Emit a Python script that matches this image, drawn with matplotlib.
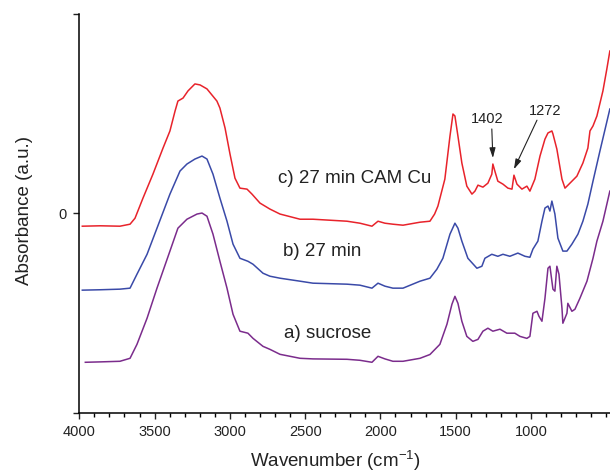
"""FTIR spectra of sucrose and treated samples, stacked with offsets"""
import matplotlib
matplotlib.use('Agg')
import matplotlib.pyplot as plt
from matplotlib.ticker import FixedLocator, MultipleLocator

plt.rcParams['font.family'] = ['Liberation Sans', 'DejaVu Sans']
plt.rcParams['mathtext.fontset'] = 'custom'
plt.rcParams['mathtext.rm'] = 'Liberation Sans'

# c) 27 min CAM Cu
wn_c = [3980, 3860, 3730, 3663, 3630, 3577, 3511, 3444, 3398, 3364, 3345, 3311, 3278,
        3232, 3198, 3152, 3086, 3066, 3032, 2999, 2966, 2933, 2886, 2853, 2800, 2734,
        2667, 2534, 2448, 2335, 2222, 2136, 2056, 2016, 1970, 1917, 1850, 1737, 1671,
        1640, 1618, 1572, 1538, 1518, 1505, 1485, 1459, 1426, 1392, 1372, 1352, 1319,
        1286, 1260, 1253, 1240, 1220, 1186, 1153, 1126, 1113, 1093, 1060, 1027, 1007,
        974, 940, 907, 887, 861, 854, 828, 794, 774, 741, 695, 655, 622, 608, 588, 562,
        522, 496, 476]
abs_c = [-0.064, -0.062, -0.064, -0.054, -0.024, 0.077, 0.197, 0.328, 0.414, 0.514,
         0.564, 0.579, 0.615, 0.650, 0.645, 0.625, 0.564, 0.529, 0.429, 0.298, 0.177,
         0.127, 0.122, 0.097, 0.052, 0.022, -0.003, -0.029, -0.029, -0.034, -0.039,
         -0.049, -0.064, -0.039, -0.049, -0.054, -0.059, -0.044, -0.039, -0.003, 0.037,
         0.172, 0.388, 0.499, 0.489, 0.388, 0.253, 0.137, 0.097, 0.112, 0.142, 0.132,
         0.152, 0.197, 0.248, 0.213, 0.162, 0.147, 0.127, 0.122, 0.192, 0.147, 0.122,
         0.137, 0.112, 0.172, 0.288, 0.373, 0.404, 0.414, 0.399, 0.323, 0.172, 0.127,
         0.152, 0.187, 0.253, 0.328, 0.414, 0.439, 0.489, 0.615, 0.725, 0.815]

# b) 27 min
wn_b = [3980, 3860, 3730, 3663, 3617, 3550, 3484, 3398, 3331, 3285, 3232, 3185, 3152,
        3112, 3066, 3019, 2979, 2933, 2880, 2846, 2780, 2734, 2667, 2534, 2448, 2222,
        2136, 2056, 2016, 1970, 1917, 1850, 1737, 1671, 1625, 1585, 1538, 1505, 1485,
        1459, 1419, 1359, 1326, 1306, 1260, 1220, 1186, 1140, 1087, 1040, 1007, 987,
        954, 927, 907, 887, 874, 861, 841, 821, 788, 761, 728, 688, 655, 622, 588, 542,
        476]
abs_b = [-0.385, -0.383, -0.380, -0.375, -0.305, -0.205, -0.074, 0.097, 0.213, 0.248,
         0.273, 0.288, 0.273, 0.197, 0.077, -0.039, -0.154, -0.225, -0.240, -0.255,
         -0.300, -0.315, -0.325, -0.340, -0.350, -0.355, -0.360, -0.375, -0.350, -0.365,
         -0.375, -0.375, -0.340, -0.325, -0.280, -0.225, -0.104, -0.049, -0.074, -0.139,
         -0.225, -0.275, -0.265, -0.225, -0.205, -0.215, -0.205, -0.215, -0.199, -0.215,
         -0.220, -0.179, -0.139, -0.039, 0.027, 0.037, 0.012, 0.062, -0.003, -0.124,
         -0.189, -0.189, -0.154, -0.104, -0.039, 0.047, 0.162, 0.313, 0.524]

# a) sucrose
wn_a = [3960, 3860, 3730, 3663, 3617, 3550, 3484, 3398, 3345, 3285, 3218, 3185, 3152,
        3112, 3066, 3019, 2979, 2933, 2880, 2846, 2780, 2734, 2667, 2534, 2448, 2222,
        2136, 2056, 2016, 1970, 1917, 1850, 1737, 1671, 1605, 1558, 1525, 1505, 1485,
        1459, 1426, 1386, 1352, 1319, 1286, 1253, 1206, 1160, 1107, 1073, 1027, 1007,
        987, 960, 947, 927, 907, 887, 874, 854, 841, 828, 814, 794, 788, 761, 755, 728,
        708, 675, 628, 588, 562, 522, 476]
abs_a = [-0.747, -0.745, -0.742, -0.727, -0.657, -0.526, -0.375, -0.189, -0.074, -0.029,
         -0.003, 0.002, -0.014, -0.104, -0.240, -0.375, -0.506, -0.591, -0.601, -0.627,
         -0.667, -0.682, -0.707, -0.727, -0.730, -0.732, -0.737, -0.747, -0.717, -0.730,
         -0.742, -0.742, -0.727, -0.708, -0.657, -0.556, -0.456, -0.416, -0.451, -0.541,
         -0.617, -0.642, -0.632, -0.591, -0.576, -0.591, -0.581, -0.601, -0.601, -0.617,
         -0.627, -0.617, -0.501, -0.491, -0.516, -0.541, -0.426, -0.275, -0.265, -0.380,
         -0.390, -0.265, -0.305, -0.476, -0.551, -0.501, -0.451, -0.491, -0.481, -0.426,
         -0.340, -0.225, -0.139, -0.039, 0.112]

series = [
    (wn_c, abs_c, '#e8232b', 'c) 27 min CAM Cu', (2170, 0.177)),
    (wn_b, abs_b, '#3a4aa8', 'b) 27 min', (2390, -0.189)),
    (wn_a, abs_a, '#7b2c8c', 'a) sucrose', (2350, -0.601)),
]

# marked bands on curve c: (label, peak index in wn_c, text position, arrow tail)
peak_labels = [
    ('1402', wn_c.index(1253), (1293, 0.474), (1260, 0.424)),
    ('1272', wn_c.index(1113), (907, 0.514), (960, 0.468)),
]


def main():
    fig = plt.figure(figsize=(6.1, 4.73), dpi=100)
    ax = fig.add_axes([0.130, 0.1275, 0.870, 0.8425])

    for wn, ab, color, name, pos in series:
        ax.plot(wn, ab, color=color, lw=1.1)
        ax.text(pos[0], pos[1], name, fontsize=13.5, color='#222222',
                ha='center', va='center')

    for label, i, txt, tail in peak_labels:
        tip = (wn_c[i], abs_c[i] + 0.03)
        ax.annotate('', xy=tip, xytext=tail,
                    arrowprops=dict(arrowstyle='-|>,head_length=0.6,head_width=0.18',
                                    color='#222222', lw=0.8, shrinkA=0, shrinkB=0))
        ax.text(txt[0], txt[1], label, fontsize=10.5, color='#222222',
                ha='center', va='center')

    ax.set_xlim(4000, 475)
    ax.set_ylim(-1, 1)
    ax.xaxis.set_major_locator(FixedLocator([4000, 3500, 3000, 2500, 2000, 1500, 1000]))
    ax.xaxis.set_minor_locator(MultipleLocator(100))
    ax.set_yticks([-1, 0, 1])
    ax.set_yticklabels(['', '0', ''])

    for side in ('top', 'right'):
        ax.spines[side].set_visible(False)
    for side in ('left', 'bottom'):
        ax.spines[side].set_linewidth(1.1)
    ax.tick_params(which='major', direction='out', length=4, width=1.0,
                   labelsize=10.5, pad=5, colors='#222222')
    ax.tick_params(which='minor', direction='out', length=3, width=1.0)

    ax.set_xlabel(r'Wavenumber (cm$^{\mathregular{-1}}$)', fontsize=13.5, color='#222222')
    ax.set_ylabel('Absorbance (a.u.)', fontsize=13.5, color='#222222')
    ax.xaxis.set_label_coords(0.482, -0.090)
    ax.yaxis.set_label_coords(-0.088, 0.508)

    fig.savefig('out.png', dpi=100)


if __name__ == "__main__":
    main()
